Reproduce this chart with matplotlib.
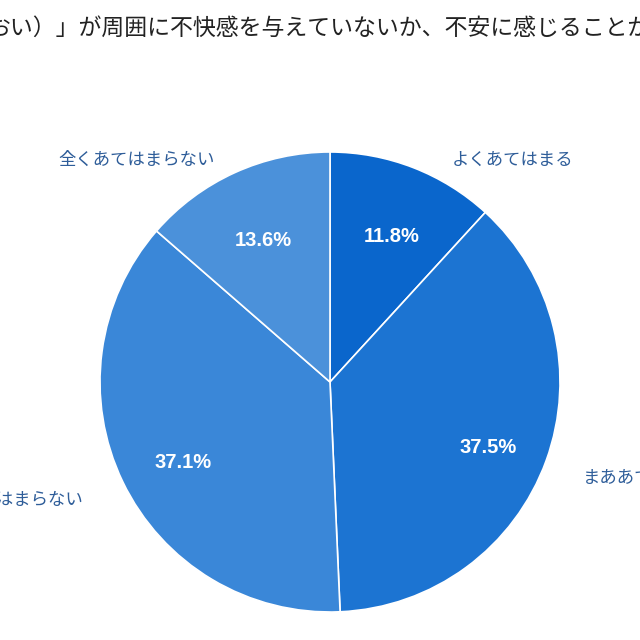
"""Pie chart: 周囲に不快感を与えていないか不安に感じるか."""

from matplotlib import pyplot as plt

plt.rcParams["font.family"] = ["Noto Sans CJK JP", "DejaVu Sans"]

categories = ["よくあてはまる", "まああてはまる", "あまりあてはまらない", "全くあてはまらない"]
shares = [11.8, 37.5, 37.1, 13.6]
colors = ["#0a66cc", "#1c74d2", "#3a87d8", "#4b91da"]
title = "おい）」が周囲に不快感を与えていないか、不安に感じることがありますか"

label_color = "#2e5d99"

figure = plt.figure(figsize=(6.4, 6.4), dpi=100)
axis = figure.add_axes([0, 0, 1, 1])

center = (330, 258)
radius = 230
wedges, _, pct_texts = axis.pie(
    shares,
    colors=colors,
    startangle=90,
    counterclock=False,
    center=center,
    radius=radius,
    autopct="%.1f%%",
    pctdistance=0.72,
    wedgeprops={"edgecolor": "white", "linewidth": 1.2},
    frame=True,
)
axis.set_xlim(0, 640)
axis.set_ylim(0, 640)
axis.set_aspect("equal")
axis.axis("off")

for text in pct_texts:
    x_pos, y_pos = text.get_position()
    text.set_position((x_pos + 2, y_pos - 9))
    text.set_color("white")
    text.set_fontsize(14.5)
    text.set_fontweight("bold")
    text.set_family(["Liberation Sans", "DejaVu Sans"])

# outer label anchors
label_layout = [
    ((452, 480), "left"),
    ((583, 162), "left"),
    ((83, 140), "right"),
    ((58, 480), "left"),
]
for name, ((x_pos, y_pos), align) in zip(categories, label_layout):
    axis.text(x_pos, y_pos, name, ha=align, va="center", fontsize=12.5, color=label_color)

figure.text(-12 / 640, 1 - 28 / 640, title, ha="left", va="center", fontsize=16.5, color="#222222")

figure.savefig("out.png", dpi=100)
